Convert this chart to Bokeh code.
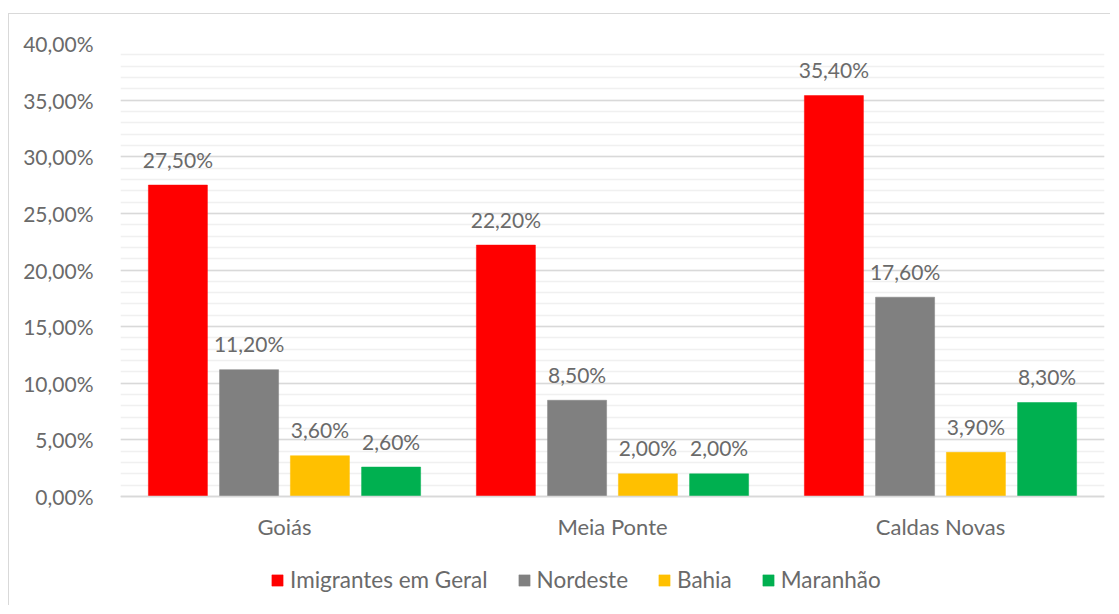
from bokeh.plotting import figure
from bokeh.models import (ColumnDataSource, FactorRange, Range1d, FixedTicker,
                          Legend, LegendItem)
from bokeh.transform import dodge
from bokeh.core.properties import value
from bokeh.embed import file_html
from bokeh.resources import INLINE

categories = ["Goiás", "Meia Ponte", "Caldas Novas"]
series_names = ["Imigrantes em Geral", "Nordeste", "Bahia", "Maranhão"]
imigrantes = [27.5, 22.2, 35.4]
nordeste = [11.2, 8.5, 17.6]
bahia = [3.6, 2.0, 3.9]
maranhao = [2.6, 2.0, 8.3]
y_ticks = [0, 5, 10, 15, 20, 25, 30, 35, 40]
y_tick_labels = ["0,00%", "5,00%", "10,00%", "15,00%", "20,00%", "25,00%",
                 "30,00%", "35,00%", "40,00%"]
colors = ["#FF0000", "#808080", "#FFC000", "#00B050"]

FONT = "Lato"
TXT = "#6a6a6a"
FS = "21px"

def fmt(v):
    return ("%.2f%%" % v).replace(".", ",")

data = {"cat": categories}
keys = ["s0", "s1", "s2", "s3"]
for k, vals in zip(keys, [imigrantes, nordeste, bahia, maranhao]):
    data[k] = vals
    data[k + "_lbl"] = [fmt(v) for v in vals]
src = ColumnDataSource(data)

# frame extends below the 0 line so that the axis labels and legend fit inside it
PLOT_PX = 453      # pixels for 0..40 %
FRAME_PX = 561     # total frame height
y_max = y_ticks[-1]
y_start = y_max - y_max * FRAME_PX / PLOT_PX

p = figure(x_range=FactorRange(*categories), y_range=Range1d(y_start, y_max),
           width=1102, height=592, output_backend="svg", toolbar_location=None,
           min_border_left=111, min_border_right=7, min_border_top=29,
           min_border_bottom=2)
p.styles = {"margin-top": "13px", "margin-left": "8px",
            "border-top": "1px solid #d9d9d9",
            "border-left": "1px solid #d9d9d9"}
p.outline_line_color = None
p.background_fill_color = "white"
p.border_fill_color = "white"

offsets = [-0.325, -0.108, 0.108, 0.325]
items = []
for k, off, c, name in zip(keys, offsets, colors, series_names):
    r = p.vbar(x=dodge("cat", off, range=p.x_range), top=k, bottom=0,
               width=0.18, source=src, fill_color=c, line_color=c,
               line_width=0.5)
    p.text(x=dodge("cat", off, range=p.x_range), y=k, text=k + "_lbl",
           source=src, text_align="center", text_baseline="alphabetic",
           y_offset=-26, text_font=value(FONT), text_font_size=FS,
           text_color=TXT)
    items.append(LegendItem(label=name, renderers=[r]))

# axes
p.yaxis.ticker = FixedTicker(ticks=y_ticks, minor_ticks=list(range(0, y_max + 1)))
p.yaxis.major_label_overrides = {t: l for t, l in zip(y_ticks, y_tick_labels)}
p.yaxis.axis_line_color = None
p.yaxis.major_tick_line_color = None
p.yaxis.minor_tick_line_color = None
p.yaxis.major_tick_out = 0
p.yaxis.major_label_standoff = 23
p.yaxis.major_label_text_font = FONT
p.yaxis.major_label_text_font_size = FS
p.yaxis.major_label_text_color = TXT

p.xaxis.fixed_location = 0
p.xaxis.axis_line_color = "#d9d9d9"
p.xaxis.axis_line_width = 1.5
p.xaxis.major_tick_line_color = None
p.xaxis.minor_tick_line_color = None
p.xaxis.major_tick_out = 0
p.xaxis.major_tick_in = 0
p.xaxis.major_label_standoff = 16
p.xaxis.major_label_text_font = FONT
p.xaxis.major_label_text_font_size = "22px"
p.xaxis.major_label_text_color = TXT

p.xgrid.grid_line_color = None
p.ygrid.grid_line_color = "#d9d9d9"
p.ygrid.grid_line_width = 1.5
p.ygrid.minor_grid_line_color = "#f0f0f0"
p.ygrid.minor_grid_line_width = 1.5

legend = Legend(items=items, orientation="horizontal", location=(150, 11),
                glyph_width=14, glyph_height=14, label_standoff=6, spacing=29,
                padding=0, margin=0, border_line_color=None,
                background_fill_alpha=0, label_text_font=FONT,
                label_text_font_size="22.5px", label_text_color=TXT)
p.add_layout(legend, "center")

open("out.html", "w").write(file_html(p, INLINE))
